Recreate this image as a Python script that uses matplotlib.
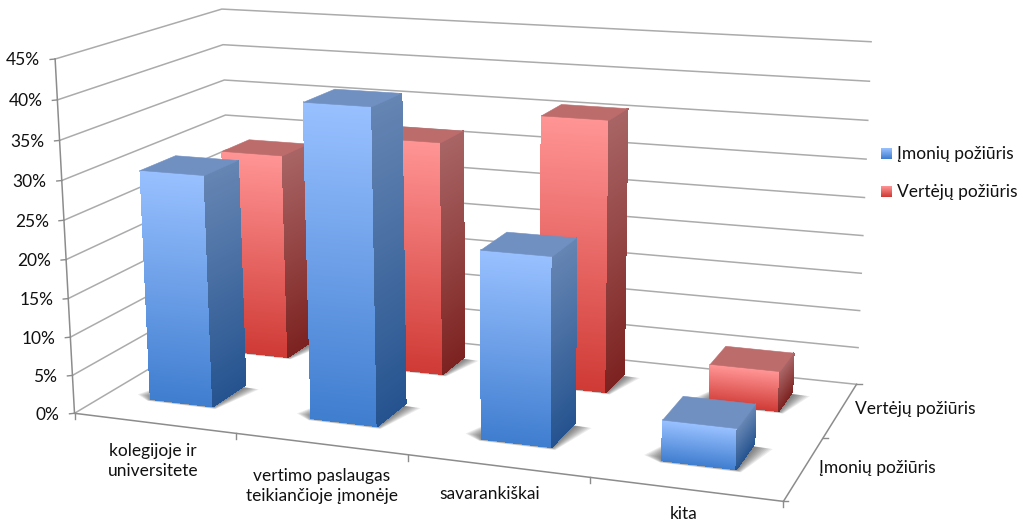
import numpy as np
import matplotlib
matplotlib.use('Agg')
import matplotlib.pyplot as plt
from matplotlib.collections import PolyCollection
from matplotlib.patches import Polygon

plt.rcParams['font.family'] = ['Lato', 'DejaVu Sans']

categories = ['kolegijoje ir\nuniversitete', 'vertimo paslaugas\nteikiančioje įmonėje', 'savarankiškai', 'kita']
series = ['Įmonių požiūris', 'Vertėjų požiūris']
imoniu = [30, 40, 23.6, 5]
verteju = [28, 31.3, 35.7, 5.2]
value_ticks = [0, 5, 10, 15, 20, 25, 30, 35, 40, 45]
value_labels = ['0%', '5%', '10%', '15%', '20%', '25%', '30%', '35%', '40%', '45%']

# camera: fit a 3x4 projection from the plot box corners seen in the picture
box_3d = [(0, 0, 0), (0, 2, 0), (4, 2, 0), (4, 0, 0), (0, 0, 45), (0, 2, 45), (4, 2, 45)]
box_px = [(75, 410), (232, 323), (857, 380), (783, 505), (55, 59), (222, 8), (871, 43)]

rows = []
for (x, y, z), (u, v) in zip(box_3d, box_px):
    p = [x, y, z / 45, 1]
    rows.append(p + [0, 0, 0, 0] + [-u * c for c in p])
    rows.append([0, 0, 0, 0] + p + [-v * c for c in p])
P = np.linalg.svd(np.array(rows, dtype=float))[2][-1].reshape(3, 4)


def project(x, y, z):
    q = P @ np.array([x, y, z / 45, 1.0])
    return q[0] / q[2], q[1] / q[2]


def lerp(a, b, t):
    a = np.array(matplotlib.colors.to_rgb(a))
    b = np.array(matplotlib.colors.to_rgb(b))
    return tuple(a + (b - a) * t)


def strips(ax, corners, h, top, bottom, zorder, n=160):
    # corners are (x, y) pairs of the two vertical edges of a face
    (x0, y0), (x1, y1) = corners
    polys, cols = [], []
    for i in range(n):
        z0, z1 = h * i / n, h * (i + 1) / n
        polys.append([project(x0, y0, z0), project(x1, y1, z0), project(x1, y1, z1), project(x0, y0, z1)])
        cols.append(lerp(bottom, top, (i + 0.5) / n))
    ax.add_collection(PolyCollection(polys, facecolors=cols, edgecolors=cols, linewidths=0.5,
                                     antialiased=False, zorder=zorder))


def bar(ax, x0, x1, y0, y1, h, pal, zorder):
    # soft shadow on the floor
    for k in range(10):
        d = 0.11 * (1 - k / 10)
        dy = 0.035 * (1 - k / 10)
        pts = [project(x0 - d, y0 + 0.05, 0), project(x0, y0 - dy, 0), project(x1 + d * 0.3, y0 - dy, 0),
               project(x1 + d, y1 - 0.05, 0), project(x0, y1, 0)]
        ax.add_patch(Polygon(pts, closed=True, fc='#303030', ec='none', alpha=0.085, zorder=zorder))
    strips(ax, [(x0, y0), (x1, y0)], h, pal['front_top'], pal['front_bot'], zorder + 0.1)
    strips(ax, [(x1, y0), (x1, y1)], h, pal['side_top'], pal['side_bot'], zorder + 0.1)
    top = [project(x0, y0, h), project(x1, y0, h), project(x1, y1, h), project(x0, y1, h)]
    ax.add_patch(Polygon(top, closed=True, fc=pal['top'], ec=pal['top'], lw=0.4, zorder=zorder + 0.2))


blue = dict(front_top='#98C0FF', front_bot='#3F7DCF', side_top='#6585B3', side_bot='#25538F', top='#7190C2')
red = dict(front_top='#FF9494', front_bot='#CF3A35', side_top='#A86464', side_bot='#7C2220', top='#BD6C6C')

fig = plt.figure(figsize=(10.25, 5.21), dpi=100)
ax = fig.add_axes([0, 0, 1, 1])
ax.set_xlim(0, 1025)
ax.set_ylim(521, 0)
ax.axis('off')

grid = '#ABABAB'
for v in value_ticks:
    a, b, c = project(0, 0, v), project(0, 2, v), project(4, 2, v)
    ax.plot([a[0], b[0], c[0]], [a[1], b[1], c[1]], color=grid, lw=1.1, zorder=1)
    ax.plot([a[0] - 5, a[0]], [a[1] + 0.5, a[1]], color='#8C8C8C', lw=1, zorder=1)
    ax.text(a[0] - 15, a[1] + 1.5, value_labels[value_ticks.index(v)], ha='right', va='center', fontsize=12.5, color='#111111')

# axis lines
for s, e in [((0, 0, 0), (0, 0, 45)), ((0, 0, 0), (4, 0, 0)), ((4, 0, 0), (4, 2, 0))]:
    a, b = project(*s), project(*e)
    ax.plot([a[0], b[0]], [a[1], b[1]], color='#8C8C8C', lw=1.1, zorder=1.5)
for i in range(5):
    a = project(i, 0, 0)
    ax.plot([a[0], a[0]], [a[1], a[1] + 6], color='#8C8C8C', lw=1, zorder=1.5)
for j in range(3):
    a = project(4, j, 0)
    ax.plot([a[0], a[0] + 5], [a[1], a[1]], color='#8C8C8C', lw=1, zorder=1.5)

# back row first, blue row overlaps it
for i, h in enumerate(verteju):
    bar(ax, i + 0.285, i + 0.68, 1.37, 1.74, h, red, 2 + i * 0.01)
for i, h in enumerate(imoniu):
    bar(ax, i + 0.28, i + 0.675, 0.37, 0.79, h, blue, 3 + i * 0.01)

cat_pos = [(153, 461), (322, 486), (490, 494), (684, 514)]
for label, (u, v) in zip(categories, cat_pos):
    ax.text(u, v, label, ha='center', va='center', fontsize=12.5, color='#111111', linespacing=1.35)
ax.text(855, 409, series[1], ha='left', va='center', fontsize=12.5, color='#111111')
ax.text(819, 468, series[0], ha='left', va='center', fontsize=12.5, color='#111111')

# legend
for (label, pal, yc) in [(series[0], blue, 153.5), (series[1], red, 192)]:
    img = np.array([[lerp(pal['front_top'], pal['front_bot'], t)] for t in np.linspace(0, 1, 20)])
    ax.imshow(img, extent=[881, 892, yc + 5.5, yc - 5.5], aspect='auto', zorder=4)
    ax.text(897, yc, label, ha='left', va='center', fontsize=12.5, color='#111111')
ax.set_xlim(0, 1025)
ax.set_ylim(521, 0)

fig.savefig('out.png', dpi=100)
